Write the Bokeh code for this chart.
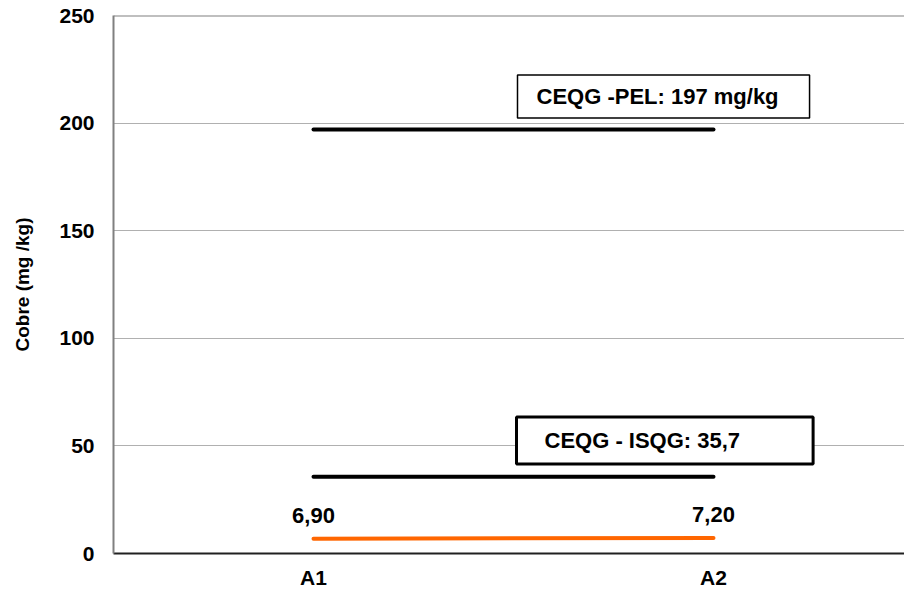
from bokeh.plotting import figure
from bokeh.models import ColumnDataSource, FixedTicker, Span, Label, Range1d
from bokeh.core.properties import value
from bokeh.embed import file_html
from bokeh.resources import INLINE

categories = ["A1", "A2"]
cobre = [6.90, 7.20]
pel = 197
isqg = 35.7
y_ticks = [0, 50, 100, 150, 200, 250]
y_label = "Cobre (mg /kg)"
pel_text = "CEQG -PEL: 197 mg/kg"
isqg_text = "CEQG - ISQG: 35,7"

FONT = "Liberation Sans"
xi = list(range(len(categories)))

p = figure(width=904, height=592, output_backend="svg", toolbar_location=None,
           x_range=Range1d(-0.5, 1.4775), y_range=Range1d(0, 250),
           min_border_left=113, min_border_right=0, min_border_top=15, min_border_bottom=39)
p.outline_line_color = None
p.background_fill_color = "white"
p.border_fill_color = "white"

# axes
p.xaxis.ticker = FixedTicker(ticks=xi)
p.xaxis.major_label_overrides = {i: c for i, c in zip(xi, categories)}
p.xaxis.major_tick_line_color = None
p.xaxis.major_tick_out = 0
p.xaxis.minor_tick_line_color = None
p.xaxis.minor_tick_out = 0
p.xaxis.axis_line_color = "#202020"
p.xaxis.axis_line_width = 2
p.xaxis.major_label_text_font = FONT
p.xaxis.major_label_text_font_style = "bold"
p.xaxis.major_label_text_font_size = "21px"
p.xaxis.major_label_text_color = "black"
p.xaxis.major_label_standoff = 12
p.xgrid.grid_line_color = None

p.yaxis.ticker = FixedTicker(ticks=y_ticks)
p.yaxis.major_tick_line_color = None
p.yaxis.major_tick_out = 0
p.yaxis.minor_tick_line_color = None
p.yaxis.minor_tick_out = 0
p.yaxis.axis_line_color = "#808080"
p.yaxis.axis_line_width = 2
p.yaxis.major_label_text_font = FONT
p.yaxis.major_label_text_font_style = "bold"
p.yaxis.major_label_text_font_size = "21px"
p.yaxis.major_label_text_color = "black"
p.yaxis.major_label_standoff = 19
p.yaxis.axis_label = y_label
p.yaxis.axis_label_text_font = FONT
p.yaxis.axis_label_text_font_style = "bold"
p.yaxis.axis_label_text_font_size = "19px"
p.yaxis.axis_label_text_color = "black"
p.yaxis.axis_label_standoff = 23
p.ygrid.grid_line_color = "#b0b0b0"
p.ygrid.grid_line_width = 1

p.add_layout(Span(location=250, dimension="width", line_color="#808080", line_width=2))

# threshold lines
p.line(xi, [pel] * len(xi), line_color="black", line_width=4, line_cap="round")
p.line(xi, [isqg] * len(xi), line_color="black", line_width=4, line_cap="round")

# data line
src = ColumnDataSource(dict(x=xi, y=cobre,
                            lab=[f"{v:.2f}".replace(".", ",") for v in cobre]))
p.line("x", "y", source=src, line_color="#FF6600", line_width=4, line_cap="round")
p.text("x", "y", text="lab", source=src, text_font=value(FONT), text_font_style="bold",
       text_font_size="22px", text_align="center", text_baseline="bottom",
       y_offset=-16, text_color="black")

# boxed labels
p.add_layout(Label(x=0.51, y=212.4, text=pel_text, text_font=FONT, text_font_style="bold",
                   text_font_size="22px", text_baseline="middle", text_align="left",
                   text_color="black",
                   background_fill_color="white", border_line_color="black",
                   border_line_width=1.5,
                   padding=dict(left=19, right=31, top=9, bottom=9)))
p.add_layout(Label(x=0.5075, y=52.5, text=isqg_text, text_font=FONT, text_font_style="bold",
                   text_font_size="22px", text_baseline="middle", text_align="left",
                   text_color="black",
                   background_fill_color="white", border_line_color="black",
                   border_line_width=3,
                   padding=dict(left=28, right=73, top=11, bottom=11)))

open("out.html", "w").write(file_html(p, INLINE))
